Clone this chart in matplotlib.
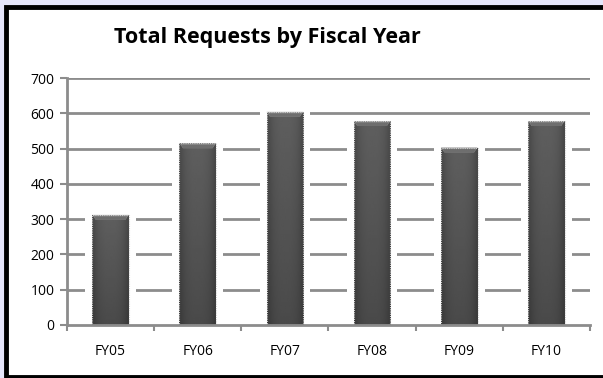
import numpy as np
import matplotlib.pyplot as plt
from matplotlib.patches import Rectangle

# dati
anni = ['FY05', 'FY06', 'FY07', 'FY08', 'FY09', 'FY10']
richieste = [312, 515, 604, 578, 503, 578]
yticks = [0, 100, 200, 300, 400, 500, 600, 700]

plt.rcParams['font.family'] = ['Open Sans', 'DejaVu Sans']

fig = plt.figure(figsize=(6.03, 3.78), dpi=100)
fig.patch.set_facecolor('#e6e6fb')

# cornice nera
cornice = Rectangle((5.5 / 603, 1.5 / 378), 1.0, 1 - 8.5 / 378, transform=fig.transFigure,
                    facecolor='white', edgecolor='black', linewidth=3.5, zorder=-5)
fig.patches.append(cornice)

ax = fig.add_axes([67 / 603, 1 - 325 / 378, 523 / 603, 247 / 378])
ax.set_facecolor('none')
ax.set_zorder(2)
x = np.arange(len(anni))

# griglia
for v in yticks[1:]:
    ax.axhline(v, color='#8c8c8c', linewidth=2, zorder=1)

# spazio bianco intorno alle barre
ax.bar(x, richieste, width=0.58, color='white', zorder=2)

# barre con gradiente (scuro in basso, bordi laterali piu' scuri)
oriz = 1 - 0.25 * (2 * np.abs(np.linspace(0, 1, 40) - 0.5)) ** 3
vert = np.linspace(0.29, 0.37, 60)[:, None]
grad = vert * oriz[None, :]
for xi, v in zip(x, richieste):
    r = Rectangle((xi - 0.21, 0), 0.42, v, facecolor='none', edgecolor='none')
    ax.add_patch(r)
    im = ax.imshow(grad, extent=(xi - 0.21, xi + 0.21, 0, v), aspect='auto', origin='lower',
                   cmap='gray', vmin=0, vmax=1, zorder=3)
    im.set_clip_path(r)
    # bordo superiore smussato
    ax.fill([xi - 0.21, xi + 0.21, xi + 0.17, xi - 0.17],
            [v, v, v - 14, v - 14], color='#8e8e8e', zorder=4, linewidth=0)
    ax.fill([xi - 0.19, xi + 0.19, xi + 0.17, xi - 0.17],
            [v - 4, v - 4, v - 14, v - 14], color='#6e6e6e', zorder=4, linewidth=0)
    ax.add_patch(Rectangle((xi - 0.21, 0), 0.42, v, facecolor='none',
                           edgecolor='#d0d0d0', linewidth=0.8, linestyle=(0, (1, 1)), zorder=5))

ax.set_xlim(-0.5, len(anni) - 0.5)
ax.set_ylim(0, 700)
ax.set_yticks(yticks)
ax.set_xticks(x)
ax.set_xticklabels(anni, fontsize=10)
ax.set_xticks(np.arange(-0.5, len(anni)), minor=True)
ax.tick_params(axis='x', which='major', length=0, pad=14)
ax.tick_params(axis='x', which='minor', length=4, color='#8c8c8c', width=1.5)
ax.tick_params(axis='y', length=5, color='#8c8c8c', width=1.5, labelsize=10, pad=4)
for s in ['top', 'right']:
    ax.spines[s].set_visible(False)
for s in ['left', 'bottom']:
    ax.spines[s].set_color('#8c8c8c')
    ax.spines[s].set_linewidth(2)
    ax.spines[s].set_zorder(6)

fig.text(267 / 603, 1 - 38 / 378, 'Total Requests by Fiscal Year', ha='center', va='center',
         fontsize=15.5, fontweight='bold')

fig.savefig('out.png', dpi=100, facecolor=fig.get_facecolor())
